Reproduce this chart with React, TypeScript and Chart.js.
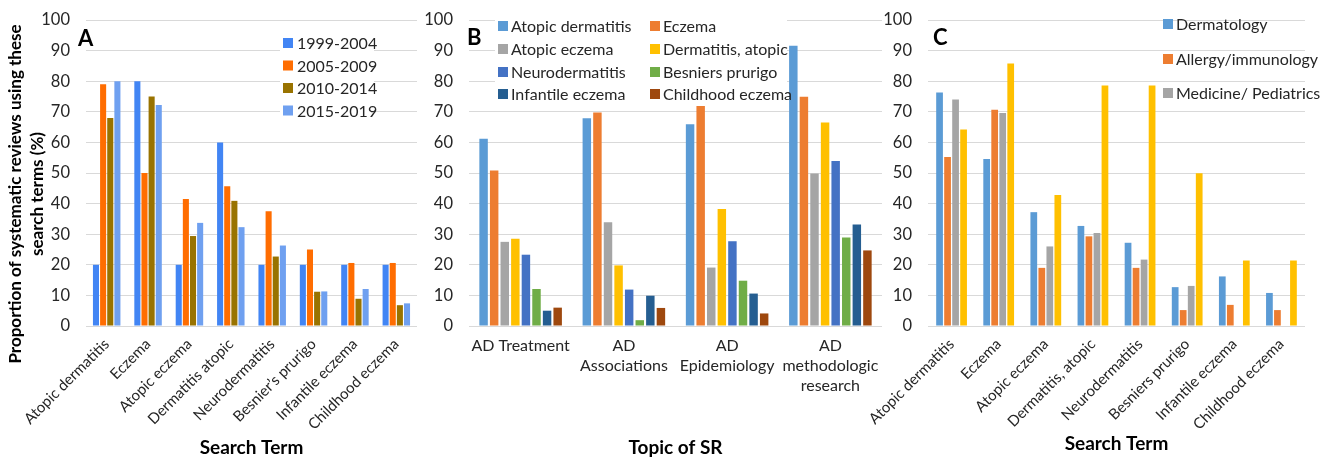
import React, { useEffect, useRef } from "react";
import { Chart, registerables } from "chart.js";

Chart.register(...registerables);

const FONT = "Lato";
const TEXT = "#262626";
const GRID = "#d9d9d9";

// ---------- Panel A ----------
const termsA = [
  "Atopic dermatitis",
  "Eczema",
  "Atopic eczema",
  "Dermatitis atopic",
  "Neurodermatitis",
  "Besnier\u2019s prurigo",
  "Infantile eczema",
  "Childhood eczema",
];
const periodLabels = ["1999-2004", "2005-2009", "2010-2014", "2015-2019"];
const period1999 = [20, 80, 20, 60, 20, 20, 20, 20];
const period2005 = [79, 50, 41.5, 45.7, 37.5, 25, 20.6, 20.6];
const period2010 = [68, 75, 29.4, 40.9, 22.7, 11.2, 8.9, 6.8];
const period2015 = [80, 72.2, 33.7, 32.3, 26.3, 11.3, 12.1, 7.4];
const colorsA = ["#4285F4", "#FF6D01", "#997300", "#6FA0F0"];

// ---------- Panel B ----------
const topicsB = [
  "AD Treatment",
  ["AD", "Associations"],
  ["AD", "Epidemiology"],
  ["AD", "methodologic", "research"],
];
const termLabelsB = [
  "Atopic dermatitis",
  "Eczema",
  "Atopic eczema",
  "Dermatitis, atopic",
  "Neurodermatitis",
  "Besniers prurigo",
  "Infantile eczema",
  "Childhood eczema",
];
const bAtopicDermatitis = [61.2, 67.9, 65.9, 91.6];
const bEczema = [50.8, 69.8, 72.2, 74.9];
const bAtopicEczema = [27.5, 33.9, 19.1, 49.8];
const bDermatitisAtopic = [28.5, 19.8, 38.2, 66.5];
const bNeurodermatitis = [23.3, 11.9, 27.7, 53.9];
const bBesniers = [12.1, 1.9, 14.8, 28.9];
const bInfantile = [5.0, 9.9, 10.6, 33.2];
const bChildhood = [6.0, 5.9, 4.1, 24.7];
const colorsB = ["#5B9BD5", "#ED7D31", "#A5A5A5", "#FFC000", "#4472C4", "#70AD47", "#255E91", "#9E480E"];

// ---------- Panel C ----------
const termsC = [
  "Atopic dermatitis",
  "Eczema",
  "Atopic eczema",
  "Dermatitis, atopic",
  "Neurodermatitis",
  "Besniers prurigo",
  "Infantile eczema",
  "Childhood eczema",
];
const specialtyLabels = ["Dermatology", "Allergy/immunology", "Medicine/ Pediatrics", ""];
const cDermatology = [76.3, 54.6, 37.2, 32.7, 27.2, 12.7, 16.2, 10.8];
const cAllergy = [55.2, 70.7, 19.0, 29.3, 19.0, 5.2, 6.9, 5.2];
const cMedicine = [74.0, 69.6, 26.0, 30.4, 21.7, 13.1, null, null];
const cOther = [64.2, 85.8, 42.8, 78.6, 78.6, 49.9, 21.4, 21.4];
const colorsC = ["#5B9BD5", "#ED7D31", "#A5A5A5", "#FFC000"];

const yTicks = [0, 10, 20, 30, 40, 50, 60, 70, 80, 90, 100];

const CANVAS_H = 459;

const decor = {
  id: "decor",
  afterDraw(chart: any, _args: any, opts: any) {
    const ctx = chart.ctx as CanvasRenderingContext2D;
    ctx.save();
    if (opts.legendBox) {
      const [bx, by, bw, bh] = opts.legendBox;
      ctx.fillStyle = "#ffffff";
      ctx.fillRect(bx, by, bw, bh);
    }
    ctx.font = `bold 22px ${FONT}`;
    ctx.fillStyle = "#000";
    ctx.textAlign = "left";
    ctx.textBaseline = "middle";
    ctx.fillText(opts.letter, opts.letterX, opts.letterY);
    const ds = chart.data.datasets.filter((d: any) => d.label);
    ctx.font = `16px ${FONT}`;
    ds.forEach((d: any, i: number) => {
      const nc = opts.cols.length;
      const [sx, tx] = opts.cols[i % nc];
      const y = opts.rows[Math.floor(i / nc)];
      ctx.fillStyle = d.backgroundColor;
      ctx.fillRect(sx, y - 5, 10, 10);
      ctx.fillStyle = TEXT;
      ctx.fillText(d.label, tx, y + 1);
    });
    if (opts.yTitle) {
      const t = opts.yTitle;
      ctx.font = `bold ${t.size}px ${FONT}`;
      ctx.fillStyle = "#000";
      ctx.textAlign = "center";
      t.lines.forEach((line: string, i: number) => {
        ctx.save();
        ctx.translate(t.xs[i], t.y);
        ctx.rotate(-Math.PI / 2);
        ctx.fillText(line, 0, 0);
        ctx.restore();
      });
    }
    ctx.restore();
  },
};

function makeConfig(p: {
  labels: any[];
  datasets: any[];
  yWidth: number;
  padRight: number;
  rotate: boolean;
  catPct: number;
  barPct: number;
  xTitle: string;
  xTitlePadBottom: number;
  tickPad: number;
  tickSize: number;
  decorOpts: any;
}) {
  return {
    type: "bar",
    data: { labels: p.labels, datasets: p.datasets },
    plugins: [decor],
    options: {
      animation: false,
      responsive: false,
      maintainAspectRatio: false,
      layout: { padding: { top: 20, right: p.padRight, left: 0, bottom: 0 } },
      datasets: { bar: { categoryPercentage: p.catPct, barPercentage: p.barPct, borderWidth: 0 } },
      plugins: { legend: { display: false }, tooltip: { enabled: false }, decor: p.decorOpts },
      scales: {
        y: {
          min: 0,
          max: 100,
          afterBuildTicks: (s: any) => {
            s.ticks = yTicks.map((v) => ({ value: v }));
          },
          ticks: { color: TEXT, font: { family: FONT, size: 16.5 }, padding: 16 },
          grid: { color: GRID, lineWidth: 1, drawTicks: false },
          border: { display: false },
          afterFit: (s: any) => {
            s.width = p.yWidth;
            s.paddingTop = 0;
            s.paddingBottom = 0;
          },
        },
        x: {
          grid: { display: false, drawTicks: false },
          border: { display: false },
          ticks: {
            color: TEXT,
            autoSkip: false,
            font: { family: FONT, size: p.tickSize, lineHeight: 1.25 },
            maxRotation: p.rotate ? 45 : 0,
            minRotation: p.rotate ? 45 : 0,
            padding: p.tickPad,
          },
          title: {
            display: true,
            text: p.xTitle,
            color: "#000",
            font: { family: FONT, size: 19, weight: "bold" },
            padding: { top: 0, bottom: p.xTitlePadBottom },
          },
          afterFit: (s: any) => {
            s.height = CANVAS_H - 326;
            s.paddingLeft = 0;
            s.paddingRight = 0;
          },
        },
      },
    },
  };
}

function Panel({ left, width, config }: { left: number; width: number; config: () => any }) {
  const ref = useRef<HTMLCanvasElement>(null);
  useEffect(() => {
    const chart = new Chart(ref.current as HTMLCanvasElement, config());
    return () => chart.destroy();
  }, []);
  return (
    <canvas
      ref={ref}
      width={width}
      height={CANVAS_H}
      style={{ position: "absolute", left, top: 0, width, height: CANVAS_H }}
    />
  );
}

const configA = () =>
  makeConfig({
    labels: termsA,
    datasets: [period1999, period2005, period2010, period2015].map((d, i) => ({
      label: periodLabels[i],
      data: d,
      backgroundColor: colorsA[i],
    })),
    yWidth: 86,
    padRight: 23,
    rotate: true,
    catPct: 0.69,
    barPct: 0.85,
    xTitle: "Search Term",
    xTitlePadBottom: 0,
    tickPad: 9,
    tickSize: 15,
    decorOpts: {
      letter: "A",
      letterX: 78,
      letterY: 39,
      legendBox: [280, 31, 94, 92],
      cols: [[283, 297]],
      rows: [43, 65.5, 88, 110.5],
      yTitle: {
        size: 17,
        lines: ["Proportion of systematic reviews using these", "search terms (%)"],
        xs: [16, 38],
        y: 194,
      },
    },
  });

const configB = () =>
  makeConfig({
    labels: topicsB,
    datasets: [
      bAtopicDermatitis,
      bEczema,
      bAtopicEczema,
      bDermatitisAtopic,
      bNeurodermatitis,
      bBesniers,
      bInfantile,
      bChildhood,
    ].map((d, i) => ({ label: termLabelsB[i], data: d, backgroundColor: colorsB[i] })),
    yWidth: 49,
    padRight: 8,
    rotate: false,
    catPct: 0.82,
    barPct: 0.8,
    xTitle: "Topic of SR",
    xTitlePadBottom: 0,
    tickPad: 10,
    tickSize: 16,
    decorOpts: {
      letter: "B",
      letterX: 47,
      letterY: 38,
      legendBox: [75, 14, 292, 92],
      cols: [
        [78, 91],
        [230, 243],
      ],
      rows: [26, 49, 72, 94],
    },
  });

const configC = () =>
  makeConfig({
    labels: termsC,
    datasets: [cDermatology, cAllergy, cMedicine, cOther].map((d, i) => ({
      label: specialtyLabels[i],
      data: d,
      backgroundColor: colorsC[i],
    })),
    yWidth: 78,
    padRight: 17,
    rotate: true,
    catPct: 0.68,
    barPct: 0.84,
    xTitle: "Search Term",
    xTitlePadBottom: 4,
    tickPad: 9,
    tickSize: 15,
    decorOpts: {
      letter: "C",
      letterX: 83,
      letterY: 38,
      cols: [[313, 326]],
      rows: [24, 59, 93],
    },
  });

export default function App() {
  return (
    <div style={{ position: "absolute", left: 0, top: 0, width: 1322, height: 459, background: "#fff" }}>
      <Panel left={0} width={440} config={configA} />
      <Panel left={420} width={470} config={configB} />
      <Panel left={850} width={472} config={configC} />
    </div>
  );
}
